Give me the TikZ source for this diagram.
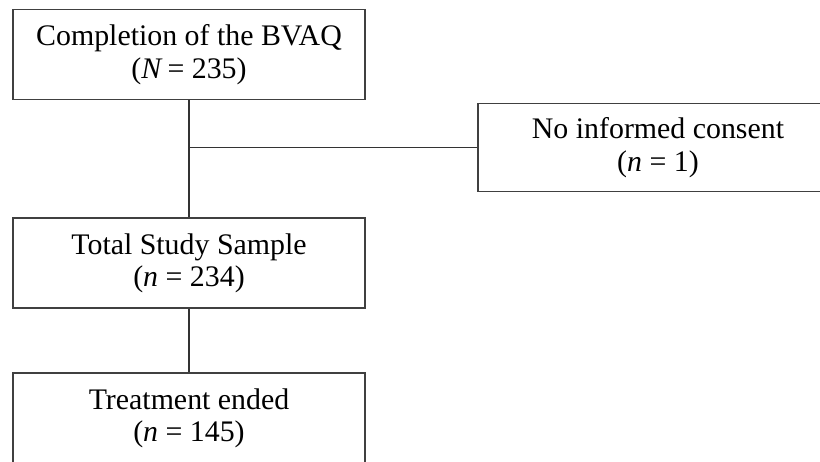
\documentclass[tikz,border=0pt]{standalone}
\usepackage{fontspec}
\setmainfont{Liberation Serif}
\usepackage{tikz}

\begin{document}
\begin{tikzpicture}[x=0.02cm,y=-0.02cm,
    box/.style={draw=black!75,line width=0.7pt,align=center,
        minimum width=7.04cm,minimum height=1.8cm,
        font=\fontsize{17pt}{18.4pt}\selectfont}]
\useasboundingbox (0,0) rectangle (820,461);
\node[box] (bvaq) at (189,54.5) {Completion of the BVAQ\\(\textit{N}\,= 235)};
\node[box,minimum width=7.2cm,minimum height=1.76cm] (noic) at (658,147.5) {No informed consent\\(\textit{n} = 1)};
\node[box] (total) at (189,263) {Total Study Sample\\(\textit{n} = 234)};
\node[box] (ended) at (189,418) {Treatment ended\\(\textit{n} = 145)};
\coordinate (split) at (bvaq.south |- noic.west);
\path [draw=black!80,line width=0.7pt]
    (bvaq) edge (total)
    (split) edge (noic)
    (total) edge (ended);
\end{tikzpicture}
\end{document}
